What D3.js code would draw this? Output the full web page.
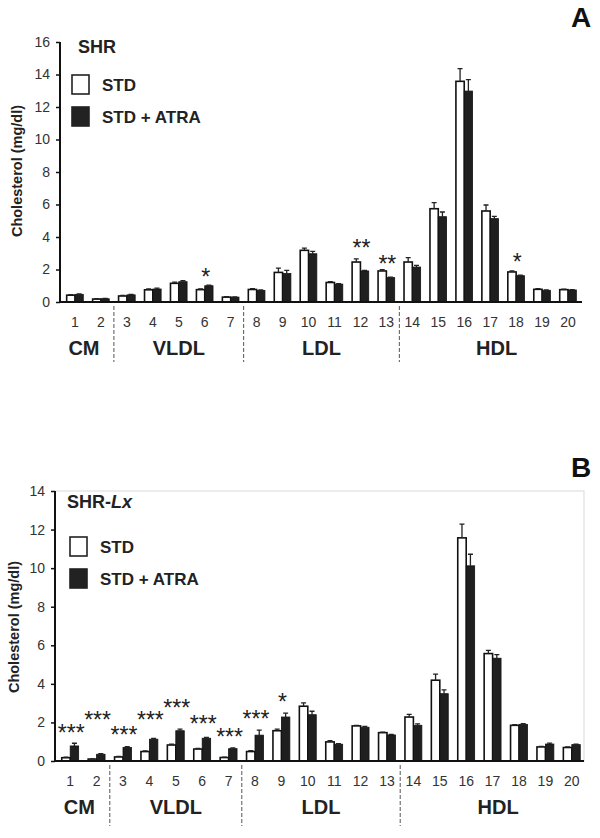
<!DOCTYPE html>
<html><head><meta charset="utf-8">
<script src="https://cdn.jsdelivr.net/npm/d3@7/dist/d3.min.js"></script>
<style>
html,body{margin:0;padding:0;background:#fff;}
svg{display:block;font-family:"Liberation Sans",Arial,sans-serif;}
</style></head>
<body>
<script>
// ---------- DATA ----------
const categories = ["1","2","3","4","5","6","7","8","9","10","11","12","13","14","15","16","17","18","19","20"];
const groupNames = ["CM","VLDL","LDL","HDL"];
const groupFirst = ["1","3","8","14"];
const groupLast  = ["2","7","13","20"];
const seriesNames = ["STD","STD + ATRA"];

// Panel A (SHR)
const yTicksA = [0,2,4,6,8,10,12,14,16];
const stdA     = [0.42,0.18,0.37,0.75,1.15,0.76,0.30,0.77,1.82,3.18,1.20,2.46,1.91,2.46,5.74,13.58,5.60,1.85,0.78,0.76];
const stdErrA  = [0.04,0.02,0.04,0.05,0.07,0.05,0.03,0.05,0.26,0.14,0.05,0.19,0.08,0.27,0.37,0.78,0.37,0.06,0.04,0.03];
const atraA    = [0.47,0.20,0.44,0.80,1.25,1.00,0.30,0.71,1.75,2.97,1.10,1.91,1.50,2.15,5.25,12.98,5.13,1.62,0.72,0.74];
const atraErrA = [0.03,0.02,0.03,0.05,0.06,0.04,0.02,0.03,0.20,0.15,0.03,0.03,0.03,0.10,0.29,0.70,0.14,0.04,0.02,0.02];
const sigA     = ["","","","","","*","","","","","","**","**","","","","","*","",""];
const sigLevelA= [0,0,0,0,0,1.85,0,0,0,0,0,3.63,2.65,0,0,0,0,2.77,0,0];

// Panel B (SHR-Lx)
const yTicksB = [0,2,4,6,8,10,12,14];
const stdB     = [0.17,0.10,0.21,0.49,0.83,0.62,0.18,0.49,1.57,2.84,0.99,1.82,1.47,2.28,4.19,11.57,5.57,1.85,0.73,0.70];
const stdErrB  = [0.03,0.01,0.03,0.03,0.05,0.03,0.02,0.05,0.08,0.17,0.06,0.03,0.03,0.14,0.31,0.71,0.17,0.03,0.03,0.03];
const atraB    = [0.78,0.35,0.70,1.13,1.57,1.18,0.64,1.34,2.28,2.40,0.87,1.75,1.35,1.85,3.49,10.12,5.33,1.90,0.88,0.85];
const atraErrB = [0.14,0.03,0.04,0.04,0.08,0.04,0.04,0.26,0.20,0.18,0.03,0.05,0.03,0.08,0.20,0.60,0.19,0.04,0.05,0.03];
const sigB     = ["***","***","***","***","***","***","***","***","*","","","","","","","","","","",""];
const sigLevelB= [1.71,2.38,1.60,2.38,3.00,2.18,1.50,2.43,3.32,0,0,0,0,0,0,0,0,0,0,0];

// ---------- DRAW ----------
const W = 600, H = 838;
const svg = d3.select("body").append("svg").attr("width", W).attr("height", H);

function drawPanel(p) {
  const g = svg.append("g");
  const x = d3.scaleBand().domain(categories).range([p.bandL, p.bandR]).padding(0);
  const y = d3.scaleLinear().domain([0, p.yMax]).range([p.y0, p.yTop]);
  const bw = x.bandwidth() * 0.32;
  const cx = c => x(c) + x.bandwidth() / 2;

  if (p.frame) {
    g.append("rect").attr("x", p.axisX).attr("y", y(p.yMax))
      .attr("width", p.axisR - p.axisX).attr("height", p.y0 - y(p.yMax))
      .attr("fill", "none").attr("stroke", "#d9d9d9").attr("stroke-width", 1);
  }

  // y axis
  const yAx = g.append("g").attr("transform", `translate(${p.axisX},0)`)
    .call(d3.axisLeft(y).tickValues(p.ticks).tickSize(4).tickPadding(6).tickFormat(d3.format("d")));
  yAx.select(".domain").attr("stroke", "#111").attr("stroke-width", 2)
    .attr("d", `M0,${y(p.yMax)}V${p.y0}`);
  yAx.selectAll(".tick line").attr("stroke", "#111").attr("stroke-width", 1.5);
  yAx.selectAll(".tick text").attr("font-size", 14).attr("fill", "#333")
    .attr("font-family", "'Liberation Sans', Arial, sans-serif");

  // bars
  const rows = categories.map((c, i) => ({c, i}));
  const barsS = g.append("g");
  barsS.selectAll("rect").data(rows).join("rect")
    .attr("x", d => cx(d.c) - bw).attr("width", bw)
    .attr("y", d => y(p.std[d.i])).attr("height", d => p.y0 - y(p.std[d.i]))
    .attr("fill", "#fff").attr("stroke", "#111").attr("stroke-width", 1.6);
  const barsA = g.append("g");
  barsA.selectAll("rect").data(rows).join("rect")
    .attr("x", d => cx(d.c)).attr("width", bw)
    .attr("y", d => y(p.atra[d.i])).attr("height", d => p.y0 - y(p.atra[d.i]))
    .attr("fill", "#1f1f1f").attr("stroke", "#111").attr("stroke-width", 0.8);

  // error bars
  function err(vals, errs, off) {
    const eg = g.append("g").attr("stroke", "#222").attr("stroke-width", 1.3).attr("fill", "none");
    eg.selectAll("path").data(rows).join("path")
      .attr("d", d => {
        const xc = cx(d.c) + off;
        const yb = y(vals[d.i]), yt = y(vals[d.i] + errs[d.i]);
        return `M${xc},${yb}V${yt}M${xc - 2.5},${yt}H${xc + 2.5}`;
      });
  }
  err(p.std, p.stdErr, -bw / 2);
  err(p.atra, p.atraErr, bw / 2);

  // x axis line
  g.append("line").attr("x1", p.axisX).attr("x2", p.axisR)
    .attr("y1", p.y0).attr("y2", p.y0).attr("stroke", "#111").attr("stroke-width", 2);

  // significance stars
  const fsS = 23;
  g.append("g").selectAll("text").data(rows.filter(d => p.sig[d.i] !== "")).join("text")
    .attr("x", d => cx(d.c) + 1).attr("y", d => y(p.sigLevel[d.i]) + fsS * 0.57)
    .attr("text-anchor", "middle").attr("font-size", fsS)
    .attr("fill", "#222").text(d => p.sig[d.i]);

  // category labels
  g.append("g").selectAll("text").data(categories).join("text")
    .attr("x", d => cx(d)).attr("y", p.y0 + 25)
    .attr("text-anchor", "middle").attr("font-size", 14).attr("fill", "#333").text(d => d);

  // group dividers
  const divs = groupFirst.slice(1).map(c => x(c));
  g.append("g").selectAll("line").data(divs).join("line")
    .attr("x1", d => d).attr("x2", d => d)
    .attr("y1", p.y0 + 4).attr("y2", p.divBottom)
    .attr("stroke", "#555").attr("stroke-width", 1).attr("stroke-dasharray", "4,2");

  // group labels
  const edges = [p.axisX].concat(divs).concat([p.axisR]);
  g.append("g").selectAll("text").data(groupNames).join("text")
    .attr("x", (d, i) => (edges[i] + edges[i + 1]) / 2 + (i === 3 ? 6 : 0) - (i === 0 ? 3 : 0))
    .attr("y", p.y0 + 53)
    .attr("text-anchor", "middle").attr("font-size", 20).attr("font-weight", "bold")
    .attr("fill", "#222").text(d => d);

  // y title
  g.append("text").attr("transform", `translate(${p.titleX},${p.titleY}) rotate(-90)`)
    .attr("text-anchor", "middle").attr("dominant-baseline", "central")
    .attr("font-size", 14.5).attr("font-weight", "bold").attr("fill", "#222")
    .text("Cholesterol (mg/dl)");

  // strain label
  const st = g.append("text").attr("x", p.strainX).attr("y", p.strainY)
    .attr("font-size", 18).attr("font-weight", "bold").attr("fill", "#222");
  p.strain.forEach(s => st.append("tspan").attr("font-style", s.italic ? "italic" : "normal").text(s.t));

  // legend
  const lg = g.append("g");
  seriesNames.forEach((name, i) => {
    const ly = p.legY + i * 32;
    lg.append("rect").attr("x", p.legX).attr("y", ly).attr("width", 17).attr("height", 19)
      .attr("fill", i === 0 ? "#fff" : "#222").attr("stroke", "#222").attr("stroke-width", 1.6);
    lg.append("text").attr("x", p.legX + 30).attr("y", ly + 10).attr("dominant-baseline", "central")
      .attr("font-size", 17).attr("font-weight", "bold").attr("fill", "#222").text(name);
  });

  // panel letter
  g.append("text").attr("x", 581).attr("y", p.letterY).attr("text-anchor", "middle")
    .attr("font-size", 28).attr("font-weight", "bold").attr("fill", "#111").text(p.letter);
}

drawPanel({
  std: stdA, stdErr: stdErrA, atra: atraA, atraErr: atraErrA, sig: sigA, sigLevel: sigLevelA,
  ticks: yTicksA, yMax: 16, y0: 302, yTop: 42, axisX: 60, axisR: 582, bandL: 62, bandR: 581,
  divBottom: 362, titleX: 17, titleY: 171, strainX: 78, strainY: 53,
  strain: [{t: "SHR"}], legX: 72, legY: 75, letter: "A", letterY: 27, frame: false
});
drawPanel({
  std: stdB, stdErr: stdErrB, atra: atraB, atraErr: atraErrB, sig: sigB, sigLevel: sigLevelB,
  ticks: yTicksB, yMax: 14, y0: 761, yTop: 491, axisX: 55, axisR: 584, bandL: 57, bandR: 585,
  divBottom: 826, titleX: 14, titleY: 627, strainX: 67, strainY: 508,
  strain: [{t: "SHR-"}, {t: "Lx", italic: true}], legX: 70, legY: 537, letter: "B", letterY: 477, frame: true
});
</script>
</body></html>
